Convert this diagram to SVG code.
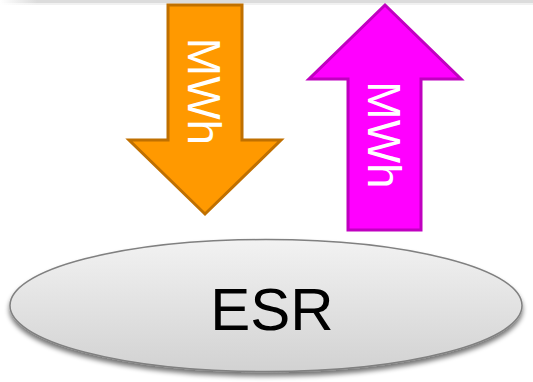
<svg xmlns="http://www.w3.org/2000/svg" width="533" height="382" viewBox="0 0 533 382">
<style>
.lbl{font-family:"Liberation Sans",Arial,sans-serif;fill:#ffffff;font-size:46px;text-anchor:middle}
.esr{font-family:"Liberation Sans",Arial,sans-serif;fill:#000000;font-size:60px;text-anchor:middle}
</style>
<defs>
<linearGradient id="topfade" x1="0" y1="0" x2="1" y2="0">
<stop offset="0" stop-color="#dcdcdc" stop-opacity="0"/>
<stop offset="0.07" stop-color="#dcdcdc" stop-opacity="1"/>
<stop offset="1" stop-color="#dcdcdc"/>
</linearGradient>
<linearGradient id="ellg" x1="0" y1="0" x2="0" y2="1">
<stop offset="0" stop-color="#f2f2f2"/>
<stop offset="1" stop-color="#d2d2d2"/>
</linearGradient>
<filter id="sh" x="-10%" y="-10%" width="120%" height="140%">
<feGaussianBlur in="SourceAlpha" stdDeviation="2.5"/>
<feOffset dx="0" dy="4" result="b"/>
<feComponentTransfer><feFuncA type="linear" slope="0.55"/></feComponentTransfer>
<feMerge><feMergeNode/><feMergeNode in="SourceGraphic"/></feMerge>
</filter>
</defs>
<rect x="0" y="0" width="533" height="3" fill="url(#topfade)"/>
<rect x="0" y="3" width="533" height="2" fill="url(#topfade)" opacity="0.4"/>
<g id="arrow-down">
<path d="M168,5 H242 V140 H281 L205,214 L129,140 H168 Z" fill="#ff9900" stroke="#c07000" stroke-width="3" stroke-linejoin="miter"/>
<text class="lbl" transform="translate(188,91.5) rotate(90)">MWh</text>
</g>
<g id="arrow-up">
<path d="M385,5 L461,79 H421 V230 H348 V79 H309 Z" fill="#ff00ff" stroke="#c000c0" stroke-width="3"/>
<text class="lbl" transform="translate(368,135) rotate(90)">MWh</text>
</g>
<g id="esr">
<ellipse cx="266" cy="305.5" rx="256" ry="66" fill="url(#ellg)" stroke="#808080" stroke-width="1.5" filter="url(#sh)"/>
<text class="esr" x="272" y="330">ESR</text>
</g>
<g id="connectors"/>
</svg>
